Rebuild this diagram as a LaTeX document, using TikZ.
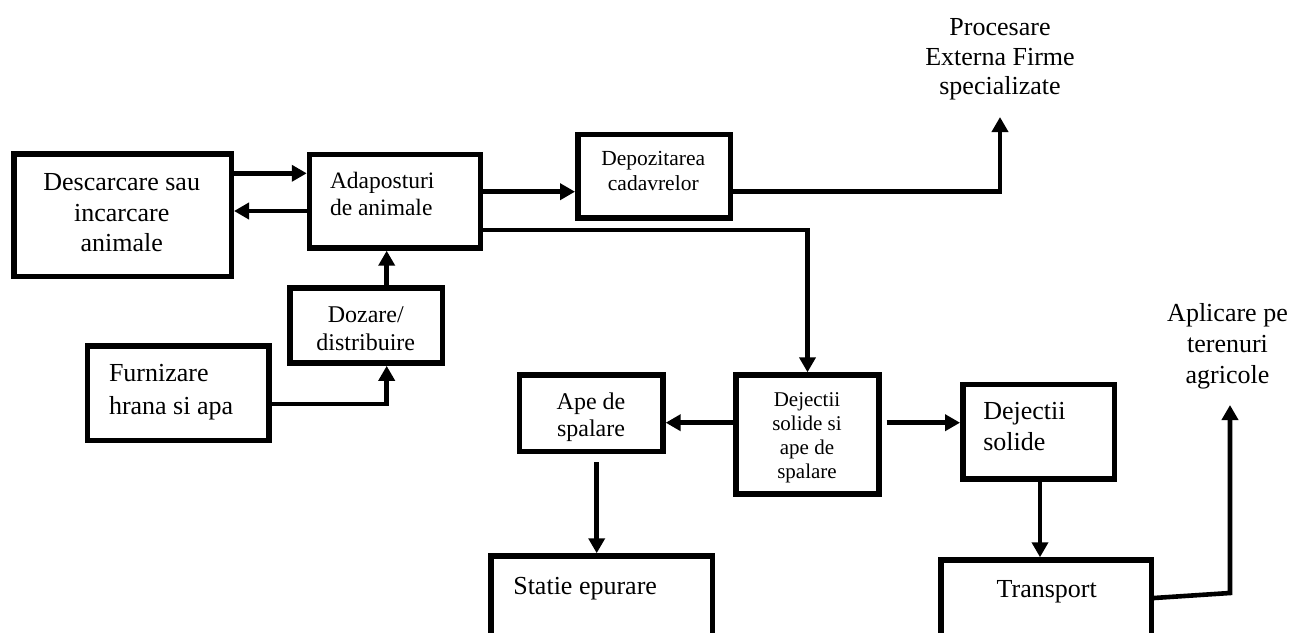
\documentclass[tikz,border=0pt]{standalone}
\usepackage{fontspec}
\setmainfont{Liberation Serif}
\usetikzlibrary{arrows.meta}
\newcommand\fsz[2]{\fontsize{#1}{#2}\selectfont}
\begin{document}
\begin{tikzpicture}[x=1pt,y=-1pt,
  box/.style={draw, line width=5.5pt, inner sep=0pt},
  arr/.style={line width=4.6pt, line join=miter, -{Triangle[length=15pt,width=16pt]}},
  txt/.style={inner sep=0pt, outer sep=0pt}]
\clip (0,0) rectangle (1293,632);
\fill[white] (0,0) rectangle (1293,632);
% boxes
\node[box, minimum width=217.5pt, minimum height=122.5pt] (desc) at (122.5,215) {};
\node[box, minimum width=171pt, minimum height=93.5pt] (adap) at (395,201.2) {};
\node[box, minimum width=152.2pt, minimum height=75.2pt] (doz) at (366.2,325.5) {};
\node[box, minimum width=181.2pt, minimum height=94.5pt] (fur) at (178.3,393.3) {};
\node[box, minimum width=152.8pt, minimum height=83.5pt] (depoz) at (654.2,176.2) {};
\node[box, minimum width=142.9pt, minimum height=118.9pt] (mix) at (807.5,434.5) {};
\node[box, minimum width=143.5pt, minimum height=76.2pt] (ape) at (591.2,413.2) {};
\node[box, minimum width=221.2pt, minimum height=104pt] (stat) at (601.7,608) {};
\node[box, minimum width=151.8pt, minimum height=94.5pt] (sol) at (1038.7,431.7) {};
\node[box, minimum width=210.2pt, minimum height=100pt] (trans) at (1046.2,610) {};
% texts
\node[txt, anchor=north, align=center, font=\fsz{26}{29.5}] (proc) at (1000,15) {\strut Procesare\\Externa Firme\\specializate};
\node[txt, anchor=north, align=center, font=\fsz{26}{30.7}] (aplic) at (1227.5,300.2) {\strut Aplicare pe\\terenuri\\agricole};
\node[txt, anchor=north, align=center, font=\fsz{26}{30.5}] (tdesc) at (121.7,169.4) {\strut Descarcare sau\\incarcare\\animale};
\node[txt, anchor=north west, align=left, font=\fsz{23.5}{27.7}] (tadap) at (330,168.9) {\strut Adaposturi\\de animale};
\node[txt, anchor=north, align=center, font=\fsz{24}{27.3}] (tdoz) at (365.8,303.6) {\strut Dozare/\\distribuire};
\node[txt, anchor=north west, align=left, font=\fsz{26}{33}] (tfur) at (109,358.6) {\strut Furnizare\\hrana si apa};
\node[txt, anchor=north, align=center, font=\fsz{21.5}{24.7}] (tdepoz) at (653.3,148.7) {\strut Depozitarea\\cadavrelor};
\node[txt, anchor=north, align=center, font=\fsz{21}{24}] (tmix) at (807,389.9) {\strut Dejectii\\solide si\\ape de\\spalare};
\node[txt, anchor=north, align=center, font=\fsz{24}{27}] (tape) at (591,390.1) {\strut Ape de\\spalare};
\node[txt, anchor=north west, align=left, font=\fsz{26}{30.7}] (tsol) at (983.3,398.5) {\strut Dejectii\\solide};
\node[txt, anchor=base, font=\fsz{26}{30}] (ttrans) at (1046.7,597.3) {Transport};
\node[txt, anchor=base west, font=\fsz{26}{30}] (tstat) at (513.3,594) {Statie epurare};
% helper coordinates
\coordinate (ptip) at (1000,117);
\coordinate (atip) at (1230,405);
\coordinate (abend) at (1230,593);
\coordinate (mixo) at ([xshift=5pt]mix.east);
\coordinate (apeo) at ([yshift=-8pt]ape.south);
% connectors
\draw[arr] (desc.east |- 0,173.3) -- (adap.west |- 0,173.3);
\draw[arr] (adap.west |- 0,211) -- (desc.east |- 0,211);
\draw[arr] (doz.north -| 386.7,0) -- (adap.south -| 386.7,0);
\draw[arr] (fur.east |- 0,404) -| (doz.south -| 386.7,0);
\draw[arr] (adap.east |- 0,191.7) -- (depoz.west |- 0,191.7);
\draw[arr] (depoz.east |- 0,191.7) -| (ptip);
\draw[arr] (adap.east |- 0,230) -| (mix.north);
\draw[arr] (mix.west |- 0,422.7) -- (ape.east |- 0,422.7);
\draw[arr] (mixo |- 0,422.7) -- (sol.west |- 0,422.7);
\draw[arr] (596.7,0 |- apeo) -- (stat.north -| 596.7,0);
\draw[arr] (sol.south -| 1040,0) -- (trans.north -| 1040,0);
\draw[arr] (trans.east |- 0,598) -- (abend) -- (atip);
\end{tikzpicture}
\end{document}
